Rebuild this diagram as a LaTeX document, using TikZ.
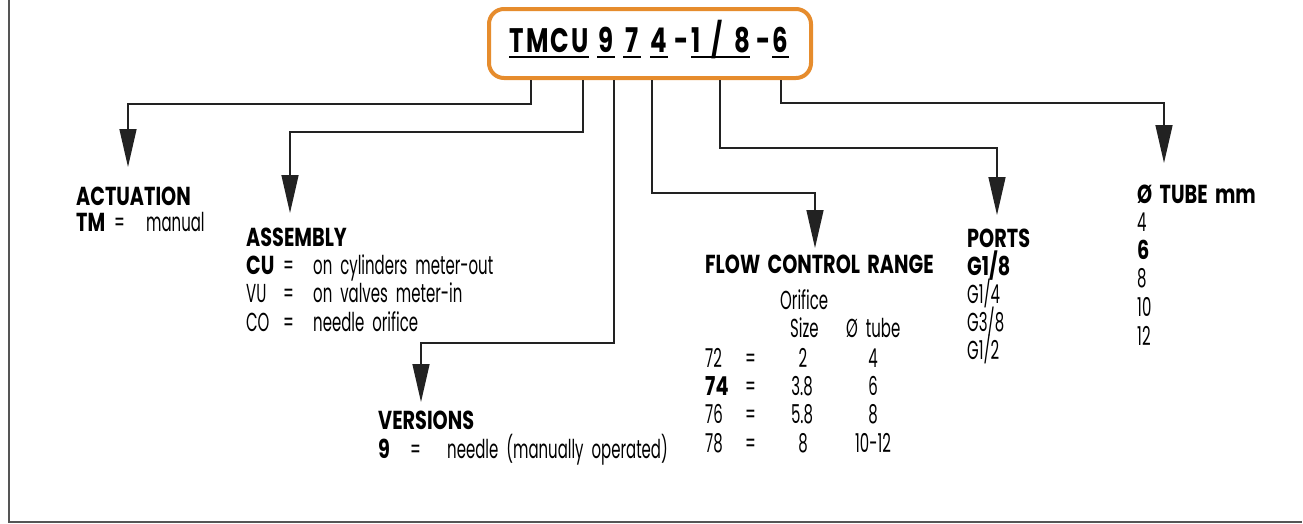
\documentclass[tikz,border=0pt]{standalone}
\usepackage{fontspec}
\usetikzlibrary{arrows.meta}
\newfontfamily\rfam{Poppins}[FakeStretch=0.575,WordSpace=2]
\newfontfamily\bfam{Poppins}[FakeStretch=0.74,WordSpace=1.8]
\newfontfamily\tfam{Poppins}[FakeStretch=0.72]
\definecolor{boxorange}{HTML}{E68C2D}
\definecolor{lineink}{HTML}{222222}
\definecolor{frameink}{HTML}{555555}
\tikzset{
  tx/.style={anchor=base west, inner sep=0pt, font=\rfam\fontsize{26}{30}\selectfont},
  tc/.style={anchor=base, inner sep=0pt, font=\rfam\fontsize{26}{30}\selectfont},
  hb/.style={anchor=base west, inner sep=0pt, font=\bfam\bfseries\fontsize{26}{30}\selectfont},
  tt/.style={anchor=base west, inner sep=0pt, font=\tfam\bfseries\fontsize{34}{38}\selectfont},
  conn/.style={draw=lineink, line width=1.5pt, -{Triangle[length=38pt,width=17pt]}},
  uline/.style={draw=black, line width=2pt},
  codebox/.style={draw=boxorange, line width=4pt, rounded corners=15pt, fill=white,
    minimum width=322pt, minimum height=69pt, inner sep=0pt}
}
\begin{document}
\begin{tikzpicture}[x=1pt,y=-1pt]
\useasboundingbox (0,0) rectangle (1303,523);
% frame
\draw[frameink, line width=2pt] (8.5,0) -- (8.5,521.5) -- (1302,521.5);
% code box
\node[codebox] (box) at (650,43.5) {};
\node[tt] (c1) at (509,52) {\makebox[80pt][s]{T\hfill M\hfill C\hfill U}};
\node[tt] (c2) at (597,52) {\makebox[18pt]{9}};
\node[tt] (c3) at (623,52) {\makebox[18pt]{7}};
\node[tt] (c4) at (650,52) {\makebox[18pt]{4}};
\node[tt] (d1) at (677,52) {\makebox[9pt]{-}};
\node[tt] (c5) at (691,52) {\makebox[59pt][s]{1\hspace{2pt plus 1fill}/\hspace{2pt plus 1fill}8}};
\node[tt] (d2) at (759,52) {\makebox[9pt]{-}};
\node[tt] (c6) at (772,52) {\makebox[17pt]{6}};
\foreach \n in {c1,c2,c3,c4,c5,c6}
  \draw[uline] ([yshift=-5pt]\n.base west) -- ([yshift=-5pt]\n.base east);
% elbow and tip coordinates
\coordinate (e1) at (531,104);  \coordinate (t1) at (128,167);
\coordinate (e2) at (583,132);  \coordinate (t2) at (290,213);
\coordinate (e3) at (614,343);  \coordinate (t3) at (421,402);
\coordinate (e4) at (652,193);  \coordinate (t4) at (815,248);
\coordinate (e5) at (720,148);  \coordinate (t5) at (997,215);
\coordinate (e6) at (781,103);  \coordinate (t6) at (1164,163);
\foreach \i in {1,...,6}
  \draw[conn] (box.south -| e\i) -- (e\i) -| (t\i);
% ACTUATION
\node[hb] (act) at (76,205) {ACTUATION};
\node[hb] (act1) at (76,231) {TM};
\node[tx] (act1e) at (114,231) {=};
\node[tx] (act1t) at (146,231) {manual};
% ASSEMBLY
\node[hb] (asm) at (246,246) {ASSEMBLY};
\node[hb] (asm1) at (246,274) {CU};
\node[tx] (asm1e) at (283,274) {=};
\node[tx] (asm1t) at (313,274) {on cylinders meter-out};
\node[tx] (asm2) at (246,302.5) {VU};
\node[tx] (asm2e) at (283,302.5) {=};
\node[tx] (asm2t) at (313,302.5) {on valves meter-in};
\node[tx] (asm3) at (246,331) {CO};
\node[tx] (asm3e) at (283,331) {=};
\node[tx] (asm3t) at (313,331) {needle orifice};
% VERSIONS
\node[hb] (ver) at (378,429) {VERSIONS};
\node[hb] (ver1) at (378,458) {9};
\node[tx] (ver1e) at (410,458) {=};
\node[tx] (ver1t) at (447,458) {needle (manually operated)};
% FLOW CONTROL RANGE
\node[hb] (flow) at (705,273) {FLOW CONTROL RANGE};
\node[tx] (ori) at (780,309) {Orifice};
\node[tx] (size) at (790,337) {Size};
\node[tx] (tube) at (846,337) {Ø tube};
\node[tx] (r1) at (705,367) {72};
\node[hb] (r2) at (705,395) {74};
\node[tx] (r3) at (705,423) {76};
\node[tx] (r4) at (705,452) {78};
\foreach \y/\n in {367/e1,395/e2,423/e3,452/e4}
  \node[tx] (r\n) at (745,\y) {=};
\node[tc] (s1) at (803,367) {2};
\node[tc] (s2) at (802,395) {3.8};
\node[tc] (s3) at (802,423) {5.8};
\node[tc] (s4) at (803,452) {8};
\node[tc] (u1) at (873,367) {4};
\node[tc] (u2) at (873,395) {6};
\node[tc] (u3) at (873,423) {8};
\node[tc] (u4) at (873,452) {10-12};
% PORTS
\node[hb] (ports) at (967,247) {PORTS};
\node[hb] (p1) at (967,275) {G1/8};
\node[tx] (p2) at (967,303) {G1/4};
\node[tx] (p3) at (967,331) {G3/8};
\node[tx] (p4) at (967,359) {G1/2};
% TUBE
\node[hb] (tubeh) at (1137,203) {Ø TUBE mm};
\node[tx] (d4) at (1137,231) {4};
\node[hb] (d6) at (1137,259) {6};
\node[tx] (d8) at (1137,287) {8};
\node[tx] (d10) at (1137,316) {10};
\node[tx] (d12) at (1137,345) {12};
\end{tikzpicture}
\end{document}
